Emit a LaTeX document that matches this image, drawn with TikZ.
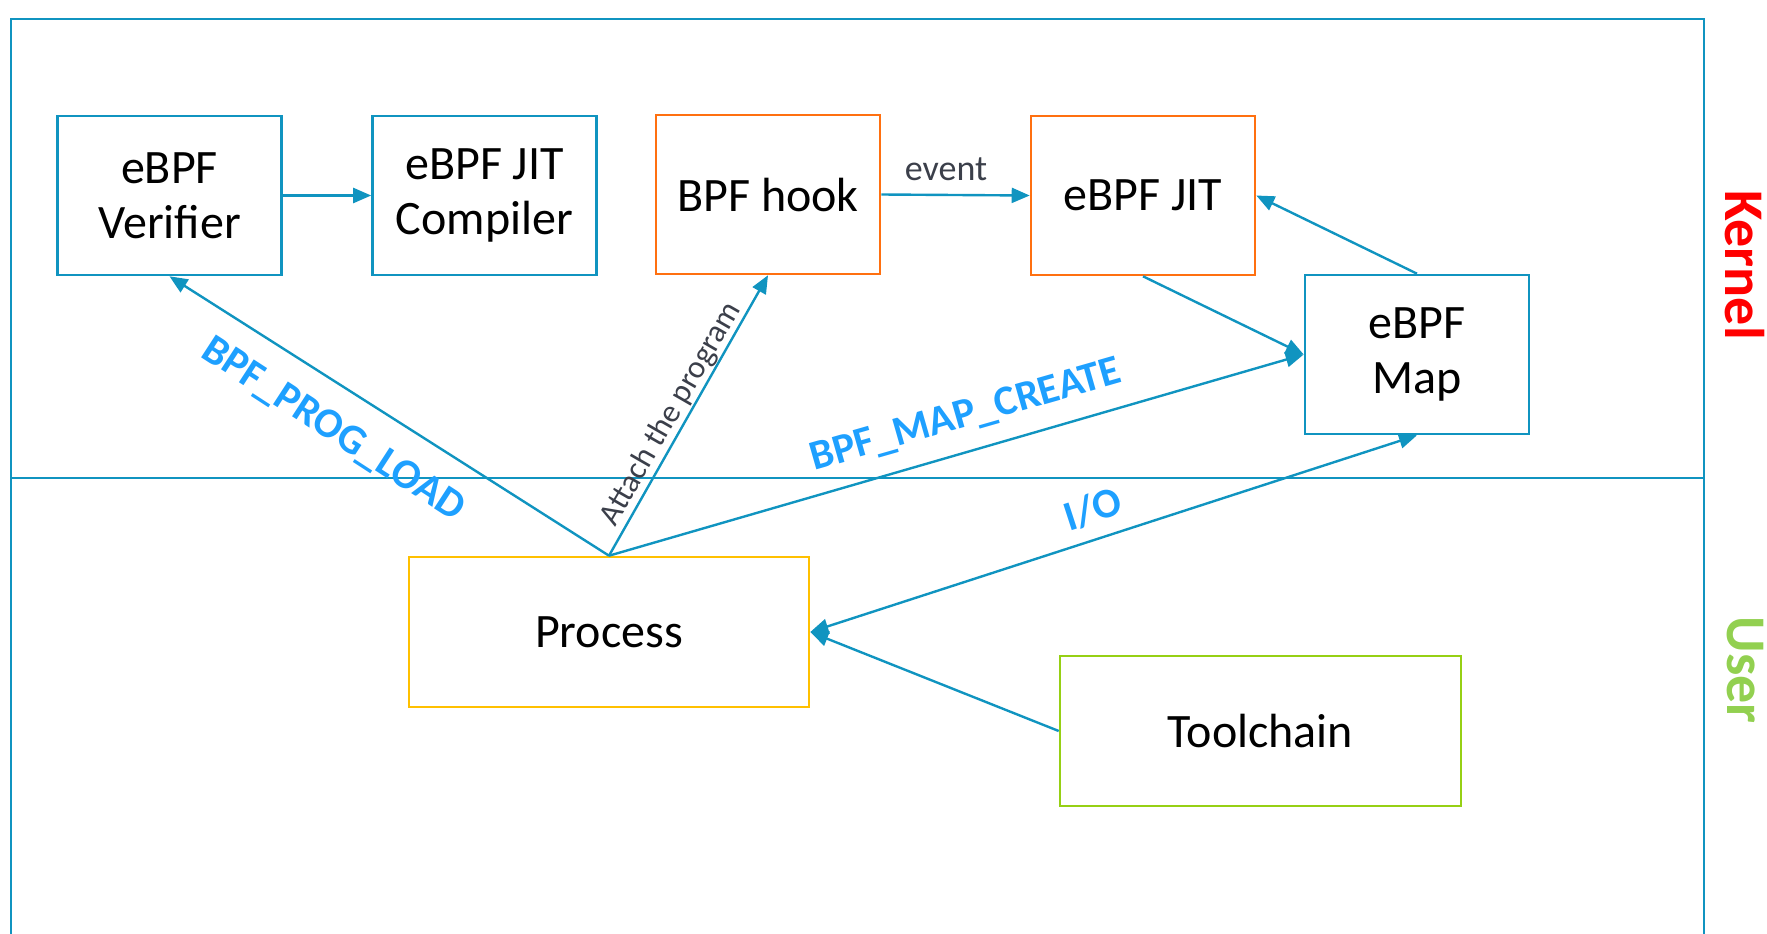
\documentclass[tikz,border=0pt]{standalone}
\usepackage{fontspec}
\setmainfont{Carlito}
\usetikzlibrary{arrows.meta}
\definecolor{frameblue}{RGB}{16,148,192}
\definecolor{hookorange}{RGB}{255,112,16}
\definecolor{procyellow}{RGB}{255,192,0}
\definecolor{toolgreen}{RGB}{150,208,20}
\definecolor{labelblue}{RGB}{30,160,255}
\definecolor{kernelred}{RGB}{255,0,0}
\definecolor{usergreen}{RGB}{146,208,80}
\definecolor{notegray}{RGB}{59,63,74}
\begin{document}
\begin{tikzpicture}[x=1pt,y=-1pt,
  box/.style={draw=frameblue, line width=2.6pt, minimum width=224pt, minimum height=159pt,
    align=center, inner sep=0pt, font=\fontsize{48}{55}\selectfont},
  widebox/.style={box, minimum width=400pt, minimum height=150pt},
  conn/.style={draw=frameblue, line width=2.4pt, -{Triangle[length=18pt,width=15pt]}},
  bothconn/.style={conn, {Triangle[length=18pt,width=15pt]}-{Triangle[length=18pt,width=15pt]}},
  bluelabel/.style={text=labelblue, font=\fontsize{42}{50}\selectfont\bfseries, inner sep=0pt},
  graylabel/.style={text=notegray, inner sep=0pt},
  sidelabel/.style={font=\fontsize{56}{64}\selectfont\bfseries, rotate=-90, inner sep=0pt},
  frameline/.style={draw=frameblue, line width=2.6pt}
]
\useasboundingbox (0,0) rectangle (1767,934);
% frame and divider
\draw[frameline] (11,934) -- (11,19) -- (1704,19) -- (1704,934);
\draw[frameline] (11,478) -- (1704,478);

% nodes
\node[box] (ver) at (169.5,195.5) {eBPF\\Verifier};
\node[box] (comp) at (484.5,195.5) {eBPF JIT\\Compiler};
\node[box, draw=hookorange] (hook) at (768,194.5) {BPF hook};
\node[box, draw=hookorange] (jit) at (1143,195.5) {eBPF JIT};
\node[box] (map) at (1417,354.5) {eBPF\\Map};
\node[widebox, draw=procyellow] (proc) at (609,632) {Process};
\node[widebox, draw=toolgreen, minimum width=401pt] (tool) at (1260.5,731) {Toolchain};

% connectors
\draw[conn] (ver.east) -- (comp.west);
\draw[conn] (hook.east) -- (jit.west);
\draw[conn] (jit.south) -- (map.west);
\draw[conn] (map.north) -- (jit.east);
\draw[conn] (proc.north) -- (ver.south);
\draw[conn] (proc.north) -- (hook.south);
\draw[conn] (proc.north) -- (map.west);
\draw[bothconn] (map.south) -- (proc.east);
\draw[conn] (tool.west) -- (proc.east);

% labels
\node[graylabel, font=\fontsize{36}{42}\selectfont] (ev) at (946,169) {event};
\node[graylabel, font=\fontsize{32}{38}\selectfont, rotate=60] (att) at (671,414) {Attach the program};
\node[bluelabel, rotate=-33] (pl) at (333,430) {BPF\_PROG\_LOAD};
\node[bluelabel, rotate=16] (mc) at (966,416) {BPF\_MAP\_CREATE};
\node[bluelabel, rotate=18] (io) at (1093,509) {I/O};
\node[sidelabel, text=kernelred] (kern) at (1745,265) {Kernel};
\node[sidelabel, text=usergreen] (usr) at (1745,670) {User};
\end{tikzpicture}
\end{document}
